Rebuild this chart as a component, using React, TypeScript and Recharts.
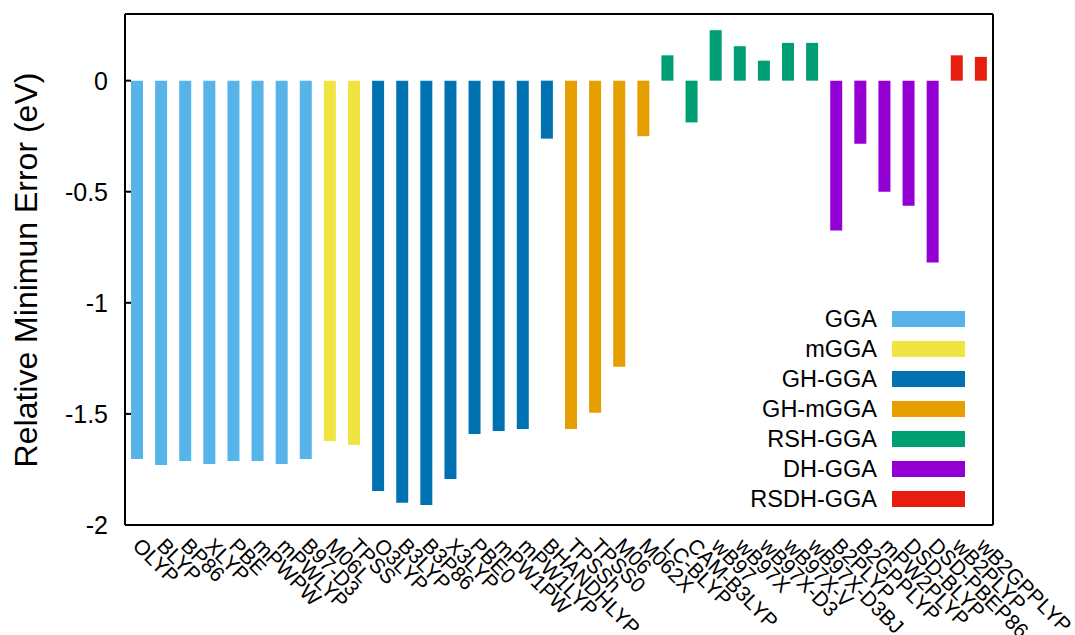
import { BarChart, Bar, Cell, XAxis, YAxis, ReferenceLine, Legend } from 'recharts'

const FONT = '"Liberation Sans", Arial, Helvetica, sans-serif'

// Functionals along the x axis
const functionals = [
  'OLYP', 'BLYP', 'BP86', 'XLYP', 'PBE', 'mPWPW', 'mPWLYP', 'B97-D3',
  'M06L', 'TPSS',
  'O3LYP', 'B3LYP', 'B3P86', 'X3LYP', 'PBE0', 'mPW1PW', 'mPW1LYP', 'BHANDHLYP',
  'TPSSh', 'TPSS0', 'M06', 'M062X',
  'LC-BLYP', 'CAM-B3LYP', 'wB97', 'wB97X', 'wB97X-D3', 'wB97X-V', 'wB97X-D3BJ',
  'B2PLYP', 'B2GPPLYP', 'mPW2PLYP', 'DSD-BLYP', 'DSD-PBEP86',
  'wB2PLYP', 'wB2GPPLYP',
]

// Relative minimum error (eV)
const errors = [
  -1.703, -1.73, -1.712, -1.725, -1.712, -1.712, -1.725, -1.703,
  -1.622, -1.64,
  -1.847, -1.9, -1.91, -1.793, -1.59, -1.577, -1.568, -0.261,
  -1.568, -1.495, -1.288, -0.25,
  0.114, -0.188, 0.227, 0.155, 0.09, 0.17, 0.17,
  -0.674, -0.284, -0.5, -0.563, -0.818,
  0.114, 0.107,
]

// index into families for each functional
const familyOf = [
  0, 0, 0, 0, 0, 0, 0, 0,
  1, 1,
  2, 2, 2, 2, 2, 2, 2, 2,
  3, 3, 3, 3,
  4, 4, 4, 4, 4, 4, 4,
  5, 5, 5, 5, 5,
  6, 6,
]

const families = ['GGA', 'mGGA', 'GH-GGA', 'GH-mGGA', 'RSH-GGA', 'DH-GGA', 'RSDH-GGA']
const familyColors = ['#56b4e9', '#f0e442', '#0072b2', '#e69f00', '#009e73', '#9400d3', '#e51e10']

const yTicks = [0, -0.5, -1, -1.5, -2]

const data = functionals.map((name, i) => ({ name, value: errors[i], family: familyOf[i] }))

function BottomTick({ x, y, payload }: any) {
  const tx = x - 5.5
  const ty = y + 22
  return (
    <text
      x={tx}
      y={ty}
      transform={`rotate(45 ${tx} ${ty})`}
      textAnchor="start"
      fontSize={21}
      fontFamily={FONT}
      fill="#000"
    >
      {payload.value}
    </text>
  )
}

function LeftTick({ x, y, payload }: any) {
  return (
    <g>
      <line x1={x} x2={x + 6} y1={y} y2={y} stroke="#000" strokeWidth={2} />
      <text x={x - 17} y={y} dy="0.36em" textAnchor="end" fontSize={25} fontFamily={FONT} fill="#000">
        {String(payload.value)}
      </text>
    </g>
  )
}

function RightTick({ x, y, payload }: any) {
  // gnuplot leaves the lone "0" a little further right
  const shift = payload.value === 0 ? 7 : 0
  return (
    <g>
      <line x1={x - 10} x2={x} y1={y} y2={y} stroke="#000" strokeWidth={2} />
      <text x={x + 17 + shift} y={y} dy="0.36em" textAnchor="start" fontSize={25} fontFamily={FONT} fill="#000">
        {String(payload.value)}
      </text>
    </g>
  )
}

function FamilyLegend() {
  return (
    <div style={{ width: 230, fontFamily: FONT }}>
      {families.map((f, i) => (
        <div
          key={f}
          style={{ display: 'flex', justifyContent: 'flex-end', alignItems: 'center', height: 30 }}
        >
          <span style={{ fontSize: 23.5, lineHeight: '30px', color: '#000', marginRight: 15 }}>{f}</span>
          <span style={{ display: 'inline-block', width: 73, height: 16, background: familyColors[i] }} />
        </div>
      ))}
    </div>
  )
}

export default function App() {
  return (
    <div style={{ position: 'absolute', left: 0, top: 0, width: 1075, height: 635, background: '#fff' }}>
      <BarChart
        width={1075}
        height={635}
        data={data}
        margin={{ top: 14, right: 0, bottom: 0, left: 0 }}
        barCategoryGap={0}
      >
        <XAxis
          dataKey="name"
          interval={0}
          height={110}
          tickLine={false}
          tickSize={0}
          tickMargin={0}
          axisLine={{ stroke: '#000', strokeWidth: 2 }}
          tick={<BottomTick />}
        />
        <YAxis
          yAxisId="left"
          orientation="left"
          width={125}
          domain={[-2, 0.3]}
          ticks={yTicks}
          tickLine={false}
          tickSize={0}
          tickMargin={0}
          axisLine={{ stroke: '#000', strokeWidth: 2 }}
          tick={<LeftTick />}
        />
        <YAxis
          yAxisId="right"
          orientation="right"
          width={82}
          domain={[-2, 0.3]}
          ticks={yTicks}
          tickLine={false}
          tickSize={0}
          tickMargin={0}
          axisLine={{ stroke: '#000', strokeWidth: 2 }}
          tick={<RightTick />}
        />
        <ReferenceLine yAxisId="left" y={0.3} stroke="#000" strokeWidth={2} />
        <Legend
          layout="vertical"
          align="center"
          verticalAlign="middle"
          content={<FamilyLegend />}
          wrapperStyle={{ left: 735, top: 304, width: 230 }}
        />
        <Bar yAxisId="left" dataKey="value" barSize={12} isAnimationActive={false}>
          {data.map((d, i) => (
            <Cell key={`cell-${i}`} fill={familyColors[d.family]} />
          ))}
        </Bar>
      </BarChart>
      <svg
        width={80}
        height={635}
        style={{ position: 'absolute', left: 0, top: 0, pointerEvents: 'none' }}
      >
        <text
          x={37}
          y={270}
          transform="rotate(-90 37 270)"
          textAnchor="middle"
          fontSize={32}
          fontFamily={FONT}
          fill="#000"
        >
          Relative Minimun Error (eV)
        </text>
      </svg>
    </div>
  )
}
